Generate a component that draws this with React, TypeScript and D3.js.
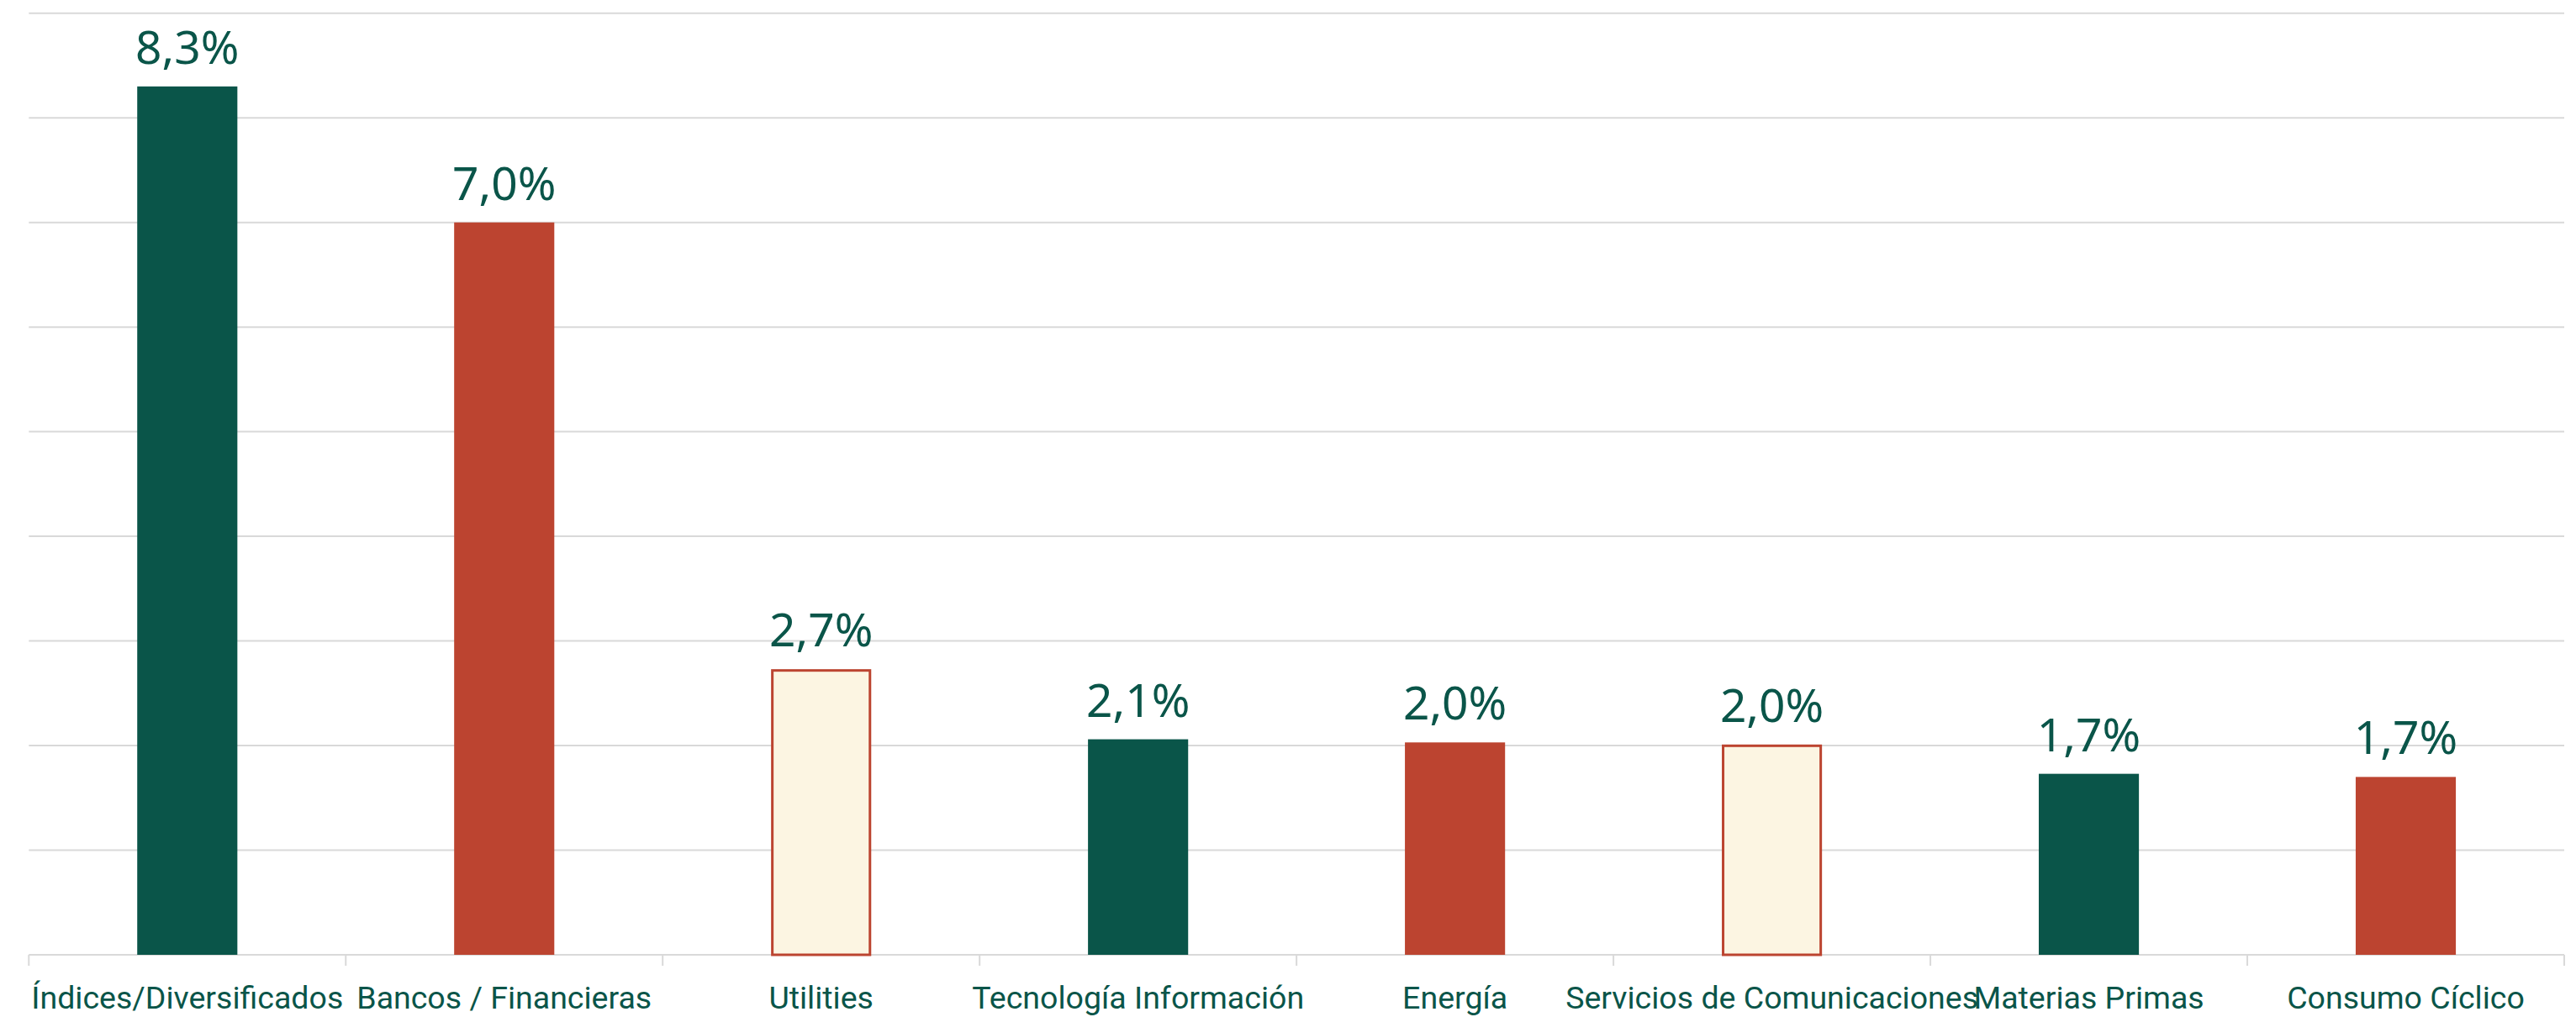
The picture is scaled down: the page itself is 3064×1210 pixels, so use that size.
import * as d3 from "d3";

const categories = [
    "Índices/Diversificados",
    "Bancos / Financieras",
    "Utilities",
    "Tecnología Información",
    "Energía",
    "Servicios de Comunicaciones",
    "Materias Primas",
    "Consumo Cíclico",
];
const values = [8.3, 7.0, 2.73, 2.06, 2.03, 2.01, 1.73, 1.7];
const gridTicks = [0, 1, 2, 3, 4, 5, 6, 7, 8, 9];

const fills = ["#0A5549", "#BC4430", "#FCF5E2"];
const strokes = ["none", "none", "#BC4430"];
const textColor = "#0A5549";
const gridColor = "#D9D9D9";

const locale = d3.formatLocale({decimal: ",", thousands: ".", grouping: [3], currency: ["", "€"]});
const fmt = locale.format(".1f");

function App() {
    const width = 3064;
    const height = 1210;
    const margin = {top: 15.7, right: 14, bottom: 74, left: 34.3};

    const xScale = d3.scaleBand()
        .domain(categories)
        .range([margin.left, width - margin.right])
        .padding(0);

    const yScale = d3.scaleLinear()
        .domain([0, 9])
        .range([height - margin.bottom, margin.top]);

    const barW = xScale.bandwidth() * 0.316;
    const y0 = yScale(0);
    const edges = categories.map(c => xScale(c)).concat([width - margin.right]);

    return (
        <div style={{position: "absolute", left: 0, top: 0}}>
            <svg width={width} height={height} style={{display: "block", background: "white"}}>
                {gridTicks.map(t =>
                    <line key={t} x1={margin.left} x2={width - margin.right} y1={yScale(t)} y2={yScale(t)}
                          stroke={gridColor} strokeWidth={2}/>
                )}
                {edges.map((x, i) =>
                    <line key={i} x1={x} x2={x} y1={y0} y2={y0 + 13} stroke={gridColor} strokeWidth={2}/>
                )}
                {categories.map((c, i) => {
                    const cx = xScale(c) + xScale.bandwidth() / 2;
                    const top = yScale(values[i]);
                    const k = i % 3;
                    const sw = strokes[k] === "none" ? 0 : 3;
                    return (
                        <g key={c}>
                            <rect x={cx - barW / 2 + sw / 2} y={top + sw / 2}
                                  width={barW - sw} height={y0 - top - sw / 2}
                                  fill={fills[k]} stroke={strokes[k]} strokeWidth={sw}/>
                            <text x={cx} y={top - 27} textAnchor="middle" fill={textColor}
                                  style={{fontFamily: "'Noto Sans', sans-serif", fontSize: 55}}>
                                {fmt(values[i])}%
                            </text>
                            <text x={cx} y={1200} textAnchor="middle" fill={textColor}
                                  style={{fontFamily: "Roboto, sans-serif", fontSize: 37.5}}>
                                {c}
                            </text>
                        </g>
                    )
                })}
            </svg>
        </div>
    )
}

export default App
